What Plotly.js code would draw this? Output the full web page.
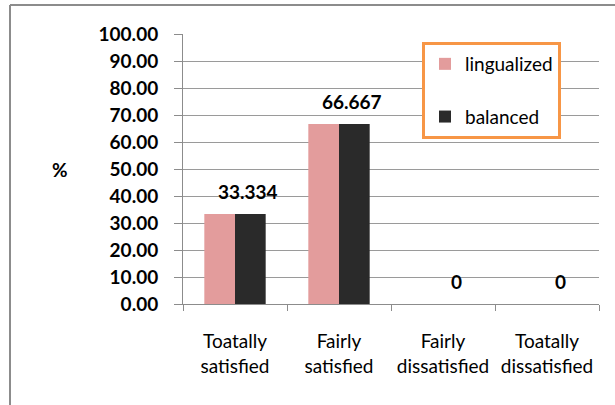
<!DOCTYPE html>
<html>
<head>
<meta charset="utf-8">
<script src="https://cdn.plot.ly/plotly-3.0.1.min.js"></script>
<style>
  html, body { margin: 0; padding: 0; background: #ffffff; }
  #chart { width: 615px; height: 405px; }
</style>
</head>
<body>
<div id="chart"></div>
<script>
// Satisfaction survey: share of respondents (%) per answer, two groups
const categories = ["Toatally satisfied", "Fairly satisfied", "Fairly dissatisfied", "Toatally dissatisfied"];
const tickLabels = ["Toatally<br>satisfied", "Fairly<br>satisfied", "Fairly<br>dissatisfied", "Toatally<br>dissatisfied"];
const lingualized = [33.334, 66.667, 0, 0];
const balanced = [33.334, 66.667, 0, 0];
const yTicks = [0, 10, 20, 30, 40, 50, 60, 70, 80, 90, 100];

const FONT = "Lato, 'DejaVu Sans', sans-serif";
const W = 615, H = 405;
const M = { l: 183, r: 16, t: 34, b: 101 };
const plotW = W - M.l - M.r, plotH = H - M.t - M.b;
const px = x => (x - M.l) / plotW;          // pixel -> paper x
const py = y => (H - M.b - y) / plotH;      // pixel -> paper y

const traces = [
  {
    type: "bar", name: "lingualized", x: categories, y: lingualized,
    legendgroup: "a",
    marker: { color: "#E39C9C", line: { width: 0 } },
    hoverinfo: "skip"
  },
  {
    type: "bar", name: "balanced", x: categories, y: balanced,
    legendgroup: "b",
    marker: { color: "#2A2A2A", line: { width: 0 } },
    hoverinfo: "skip"
  }
];

// value labels above the "balanced" bars
const annotations = categories.map((c, i) => ({
  x: c, y: balanced[i], xref: "x", yref: "y",
  text: String(balanced[i]), showarrow: false,
  xshift: 13, yshift: 23, yanchor: "middle",
  font: { family: FONT, size: 19, color: "#000000", weight: "bold" }
}));
annotations.push({
  xref: "paper", yref: "paper", x: px(60), y: 0.5,
  text: "%", showarrow: false, xanchor: "center", yanchor: "middle",
  font: { family: FONT, size: 19, color: "#000000", weight: "bold" }
});

const layout = {
  width: W, height: H,
  margin: M,
  paper_bgcolor: "#ffffff", plot_bgcolor: "#ffffff",
  barmode: "group", bargap: 0.41, bargroupgap: 0,
  font: { family: FONT, size: 19, color: "#000000" },
  showlegend: true,
  legend: {
    x: px(422), y: py(42), xanchor: "left", yanchor: "top",
    bgcolor: "#ffffff", bordercolor: "#F79646", borderwidth: 3,
    traceorder: "grouped", tracegroupgap: 25,
    entrywidth: 110, entrywidthmode: "pixels",
    font: { family: FONT, size: 19, color: "#000000" }
  },
  xaxis: {
    type: "category", tickvals: categories, ticktext: tickLabels,
    tickson: "boundaries", ticks: "outside", ticklen: 6, tickcolor: "#8c8c8c",
    showline: true, linecolor: "#8c8c8c", linewidth: 1,
    showgrid: false, zeroline: false, ticklabelstandoff: 20,
    tickfont: { family: FONT, size: 19, color: "#000000" },
    fixedrange: true
  },
  yaxis: {
    range: [0, 100], tickvals: yTicks, tickformat: ".2f",
    ticks: "outside", ticklen: 8, tickcolor: "#8c8c8c",
    showline: true, linecolor: "#8c8c8c", linewidth: 1,
    showgrid: true, gridcolor: "#9a9a9a", gridwidth: 1,
    zeroline: false, ticklabelstandoff: 12,
    tickfont: { family: FONT, size: 19, color: "#000000", weight: "bold" },
    fixedrange: true
  },
  annotations: annotations,
  shapes: [
    // chart frame (top and left edges)
    { type: "line", xref: "paper", yref: "paper", x0: px(10), x1: px(640), y0: py(5), y1: py(5),
      line: { color: "#8c8c8c", width: 2 } },
    { type: "line", xref: "paper", yref: "paper", x0: px(10), x1: px(10), y0: py(5), y1: py(430),
      line: { color: "#8c8c8c", width: 2 } }
  ]
};

Plotly.newPlot("chart", traces, layout, { staticPlot: true, displayModeBar: false });
</script>
</body>
</html>
